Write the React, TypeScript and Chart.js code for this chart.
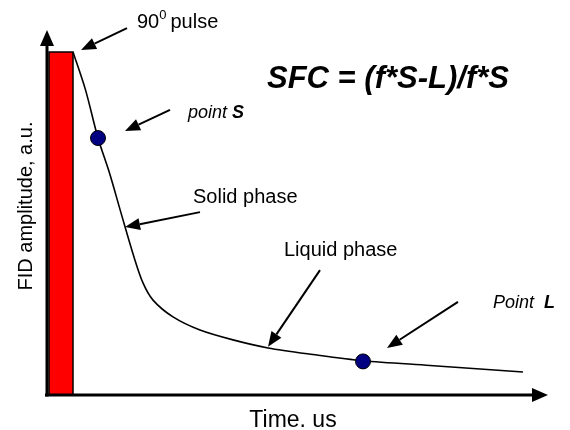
import React, { useEffect, useRef } from "react";
import { Chart, registerables } from "chart.js";
Chart.register(...registerables);

// FID decay curve (time, amplitude) in arbitrary units
const curveX = [5.2, 7.7, 10.2, 12.5, 14.8, 17.4, 19.2, 21.2, 25.2, 30.6, 37.2, 44.2, 53.2, 63.2, 76.6, 95.2];
const curveY = [94.0, 83.6, 70.4, 60.8, 49.9, 37.8, 30.7, 26.0, 21.4, 17.8, 15.1, 12.9, 11.1, 9.4, 8.1, 6.3];
// 90 degree pulse (rectangle outline)
const pulseX = [0.4, 0.4, 5.2, 5.2];
const pulseY = [0, 94, 94, 0];
// measured points S and L
const markerX = [10.2, 63.2];
const markerY = [70.4, 9.2];

// annotation arrows: from (x1,y1) to tip (x2,y2) in data units
const arrowFromX = [16.0, 24.6, 30.6, 54.6, 82.2];
const arrowFromY = [100.5, 78.1, 50.1, 34.2, 25.5];
const arrowToX = [6.8, 15.6, 15.6, 44.2, 68.0];
const arrowToY = [94.5, 72.3, 46.0, 13.2, 12.9];

const xTitle = "Time. us";
const yTitle = "FID amplitude, a.u.";
const formula = "SFC = (f*S-L)/f*S";

const FONT = "'Liberation Sans', Arial, sans-serif";

export default function App() {
  const ref = useRef<HTMLCanvasElement | null>(null);
  useEffect(() => {
    const canvas = ref.current;
    if (!canvas) return;
    const annot = {
      id: "annot",
      afterDatasetsDraw(chart: any) {
        const ctx = chart.ctx as CanvasRenderingContext2D;
        const xs = chart.scales.x;
        const ys = chart.scales.y;
        const px = (v: number) => xs.getPixelForValue(v);
        const py = (v: number) => ys.getPixelForValue(v);
        const ca = chart.chartArea;
        const arrow = (x1: number, y1: number, x2: number, y2: number, len: number, hw: number, lw: number) => {
          const a = Math.atan2(y2 - y1, x2 - x1);
          const bx = x2 - len * Math.cos(a);
          const by = y2 - len * Math.sin(a);
          ctx.save();
          ctx.strokeStyle = "#000";
          ctx.fillStyle = "#000";
          ctx.lineWidth = lw;
          ctx.beginPath();
          ctx.moveTo(x1, y1);
          ctx.lineTo(bx, by);
          ctx.stroke();
          ctx.beginPath();
          ctx.moveTo(x2, y2);
          ctx.lineTo(bx + hw * Math.sin(a), by - hw * Math.cos(a));
          ctx.lineTo(bx - hw * Math.sin(a), by + hw * Math.cos(a));
          ctx.closePath();
          ctx.fill();
          ctx.restore();
        };
        // axes with arrows
        arrow(ca.left, ca.bottom + 1.5, ca.left, ca.top, 16, 7, 3);
        arrow(ca.left - 2, ca.bottom, ca.right + 1, ca.bottom, 16, 7, 3);
        // annotation arrows
        for (let i = 0; i < arrowFromX.length; i++) {
          arrow(px(arrowFromX[i]), py(arrowFromY[i]), px(arrowToX[i]), py(arrowToY[i]), 15, 6, 2);
        }
        ctx.save();
        ctx.fillStyle = "#000";
        ctx.textBaseline = "alphabetic";
        ctx.textAlign = "left";
        // 90 deg pulse
        ctx.font = `20px ${FONT}`;
        let x = px(18.0);
        const yb = py(100.5);
        ctx.fillText("90", x, yb);
        x += ctx.measureText("90").width;
        ctx.font = `13px ${FONT}`;
        ctx.fillText("0", x, yb - 9);
        x += ctx.measureText("0").width + 4;
        ctx.font = `20px ${FONT}`;
        ctx.fillText("pulse", x, yb);
        // point S
        ctx.font = `italic 18px ${FONT}`;
        x = px(28.2);
        ctx.fillText("point ", x, py(75.9));
        x += ctx.measureText("point ").width;
        ctx.font = `italic bold 18px ${FONT}`;
        ctx.fillText("S", x, py(75.9));
        // Point L
        ctx.font = `italic 18px ${FONT}`;
        x = px(89.2);
        ctx.fillText("Point  ", x, py(23.8));
        x += ctx.measureText("Point  ").width;
        ctx.font = `italic bold 18px ${FONT}`;
        ctx.fillText("L", x, py(23.8));
        // phases
        ctx.font = `20px ${FONT}`;
        ctx.fillText("Solid phase", px(29.2), py(52.6));
        ctx.fillText("Liquid phase", px(47.4), py(38.1));
        // formula
        ctx.font = `italic bold 31px ${FONT}`;
        ctx.fillText(formula, px(44.0), py(84.1));
        // axis titles
        ctx.font = `23px ${FONT}`;
        ctx.textAlign = "center";
        ctx.fillText(xTitle, 293, 427);
        ctx.font = `20px ${FONT}`;
        ctx.translate(32, 206);
        ctx.rotate(-Math.PI / 2);
        ctx.fillText(yTitle, 0, 0);
        ctx.restore();
      },
    };
    const chart = new Chart(canvas, {
      type: "line",
      data: {
        datasets: [
          {
            data: markerX.map((v, i) => ({ x: v, y: markerY[i] })),
            showLine: false,
            pointRadius: 7.5,
            pointBackgroundColor: "#000080",
            pointBorderColor: "#000",
            pointBorderWidth: 1,
            order: 0,
          },
          {
            data: curveX.map((v, i) => ({ x: v, y: curveY[i] })),
            borderColor: "#000",
            borderWidth: 1.6,
            pointRadius: 0,
            tension: 0.3,
            fill: false,
            order: 1,
          },
          {
            data: pulseX.map((v, i) => ({ x: v, y: pulseY[i] })),
            borderColor: "#000",
            borderWidth: 1.5,
            backgroundColor: "#ff0000",
            pointRadius: 0,
            tension: 0,
            fill: "origin",
            order: 2,
          },
        ],
      },
      options: {
        responsive: false,
        animation: false,
        events: [],
        layout: { padding: { left: 47, right: 23, top: 30, bottom: 35 } },
        scales: {
          x: { type: "linear", min: 0, max: 100, display: false },
          y: { type: "linear", min: 0, max: 100, display: false },
        },
        plugins: { legend: { display: false }, tooltip: { enabled: false } },
      },
      plugins: [annot],
    });
    return () => chart.destroy();
  }, []);
  return (
    <div style={{ position: "fixed", left: 0, top: 0, width: 570, height: 430, background: "#fff" }}>
      <canvas ref={ref} width={570} height={430} />
    </div>
  );
}
